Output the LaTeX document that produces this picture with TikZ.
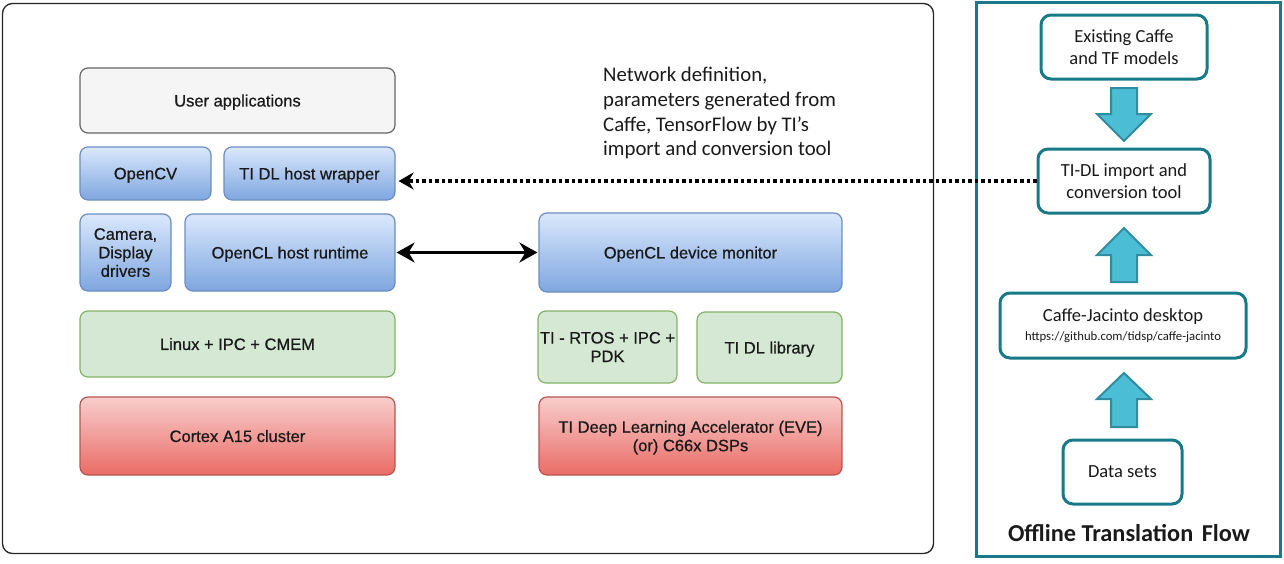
\documentclass[tikz,border=0pt]{standalone}
\usepackage{fontspec}
\setmainfont{Liberation Sans}
\newfontfamily\boxfont[FakeBold=0.7]{Liberation Sans}
\newfontfamily\calfont{Carlito}
\usetikzlibrary{arrows.meta}
\definecolor{bluetop}{HTML}{DAE8FC}
\definecolor{bluebot}{HTML}{7EA6E0}
\definecolor{bluestroke}{HTML}{6C8EBF}
\definecolor{redtop}{HTML}{F8CECC}
\definecolor{redbot}{HTML}{EA6B66}
\definecolor{redstroke}{HTML}{B85450}
\definecolor{greenfill}{HTML}{D5E8D4}
\definecolor{greenstroke}{HTML}{82B366}
\definecolor{grayfill}{HTML}{F5F5F5}
\definecolor{graystroke}{HTML}{666666}
\definecolor{teal}{RGB}{24,122,137}
\definecolor{arrowfill}{RGB}{75,190,214}
\definecolor{arrowstroke}{RGB}{49,140,160}
\definecolor{txt}{HTML}{1A1A1A}
\tikzset{
  box/.style={rounded corners=8pt, line width=1.2pt, align=center, inner sep=2pt,
    text depth=0pt, font=\boxfont\fontsize{16.5}{18.5}\selectfont, text=txt},
  graybox/.style={box, draw=graystroke, fill=grayfill},
  bluebox/.style={box, draw=bluestroke, top color=bluetop, bottom color=bluebot},
  greenbox/.style={box, draw=greenstroke, fill=greenfill},
  redbox/.style={box, draw=redstroke, top color=redtop, bottom color=redbot},
  flowbox/.style={rounded corners=10pt, line width=3pt, draw=teal, fill=white, align=center,
    font=\calfont\fontsize{18.5}{22.5}\selectfont, text=txt, inner sep=2pt},
  blockarrow/.style={fill=arrowfill, draw=arrowstroke, line width=2pt, line join=miter},
  dotarrow/.style={line width=3.5pt, dash pattern=on 3.5pt off 3pt, -{Stealth[length=15pt,width=17pt,inset=5pt]}},
  dblarrow/.style={line width=2.5pt, {Stealth[length=18pt,width=20pt,inset=6pt]}-{Stealth[length=18pt,width=20pt,inset=6pt]}},
}
\begin{document}
\begin{tikzpicture}[x=1pt,y=-1pt]
\useasboundingbox (0,0) rectangle (1284,563);
% frames
\draw[line width=1.3pt, draw=black!85, rounded corners=10pt] (2.5,3.5) rectangle (933.5,553.5);
\draw[line width=3pt, draw=teal] (976.5,2.5) rectangle (1280.5,556.5);

% left stack
\node[graybox, minimum width=315pt, minimum height=65pt] (user) at (237.5,100.5) {User applications};
\node[bluebox, minimum width=131pt, minimum height=53pt] (opencv) at (145.5,173.5) {OpenCV};
\node[bluebox, minimum width=171pt, minimum height=53pt] (wrapper) at (309.5,173.5) {TI DL host wrapper};
\node[bluebox, minimum width=91pt, minimum height=77pt] (camera) at (125.5,252.5) {Camera,\\Display\\drivers};
\node[bluebox, minimum width=210pt, minimum height=77pt] (runtime) at (290,252.5) {OpenCL host runtime};
\node[greenbox, minimum width=315pt, minimum height=66pt] (linux) at (237.5,344) {Linux + IPC + CMEM};
\node[redbox, minimum width=315pt, minimum height=78pt] (cortex) at (237.5,436) {Cortex A15 cluster};

% device stack
\node[bluebox, minimum width=303pt, minimum height=79pt] (devmon) at (690.5,252.5) {OpenCL device monitor};
\node[greenbox, minimum width=137pt, minimum height=72pt] (rtos) at (607.5,347) {TI - RTOS + IPC +\\PDK};
\node[greenbox, minimum width=145pt, minimum height=71pt] (tidllib) at (769.5,347.5) {TI DL library};
\node[redbox, minimum width=303pt, minimum height=78pt] (tidla) at (690.5,436) {TI Deep Learning Accelerator (EVE)\\(or) C66x DSPs};

% note
\node[anchor=north west, align=left, inner sep=0pt, text=txt,
  font=\calfont\fontsize{20.8}{24.7}\selectfont] (note) at (603,67)
  {Network definition,\\parameters generated from\\Caffe, TensorFlow by TI’s\\import and conversion tool};

% right flow
\node[flowbox, minimum width=166pt, minimum height=64pt] (existing) at (1124,47) {Existing Caffe\\and TF models};
\node[flowbox, minimum width=172pt, minimum height=64pt] (tidl) at (1124,181) {TI-DL import and\\conversion tool};
\node[flowbox, minimum width=246pt, minimum height=65pt] (jacinto) at (1123,325.5)
  {Caffe-Jacinto desktop\\[-3pt]{\fontsize{12.7}{15}\selectfont https://github.com/tidsp/caffe-jacinto}};
\node[flowbox, minimum width=119pt, minimum height=64pt] (datasets) at (1122.5,472) {Data sets};
\node[font=\calfont\bfseries\fontsize{24.3}{28}\selectfont, text=txt] (title) at (1129,533) {Offline Translation\hspace{0.35em}Flow};

% block arrows
\draw[blockarrow] (1111,88) -- (1137,88) -- (1137,114) -- (1151,114) -- (1124,141) -- (1097,114) -- (1111,114) -- cycle;
\draw[blockarrow] (1124,228) -- (1151,255) -- (1137,255) -- (1137,282) -- (1111,282) -- (1111,255) -- (1097,255) -- cycle;
\draw[blockarrow] (1124,373) -- (1151,399) -- (1137,399) -- (1137,427) -- (1111,427) -- (1111,399) -- (1097,399) -- cycle;

% connectors
\draw[dotarrow, shorten >=3pt] (tidl.west) -- (wrapper.east |- tidl.west);
\draw[dblarrow, shorten <=1pt, shorten >=1pt] (runtime.east) -- (devmon.west);
\end{tikzpicture}
\end{document}
